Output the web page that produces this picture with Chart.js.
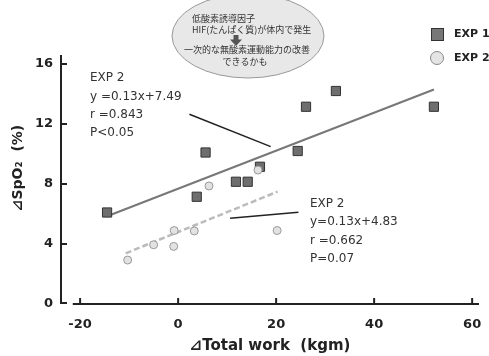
<!DOCTYPE html>
<html>
<head>
<meta charset="utf-8">
<script src="https://cdn.jsdelivr.net/npm/chart.js@4/dist/chart.umd.min.js"></script>
<style>
  html, body { margin: 0; padding: 0; background: #fff; }
  #wrap { position: relative; width: 489px; height: 356px; }
</style>
</head>
<body>
<div id="wrap"><canvas id="chart"></canvas></div>
<script>
// values
const xTicks = [-20, 0, 20, 40, 60];
const yTicks = [0, 4, 8, 12, 16];

const exp1X = [-14.5, 3.8, 5.6, 11.8, 14.2, 16.7, 24.4, 26.1, 32.2, 52.2];
const exp1Y = [6.1, 7.15, 10.1, 8.15, 8.15, 9.15, 10.2, 13.15, 14.2, 13.15];

const exp2X = [-10.3, -5.0, -0.9, -0.8, 3.3, 6.3, 16.3, 20.2];
const exp2Y = [2.93, 3.95, 3.84, 4.9, 4.87, 7.87, 8.93, 4.9];

// regression lines (end points)
const fit1X = [-14.5, 52.2];
const fit1Y = [5.85, 14.3];
const fit2X = [-10.7, 20.3];
const fit2Y = [3.38, 7.49];

// leader lines pointing from the annotations to the fits
const lead1X = [2.3, 18.9];
const lead1Y = [12.65, 10.49];
const lead2X = [10.6, 24.55];
const lead2Y = [5.71, 6.11];

const yTitle = '⊿SpO₂  (%)';
const note1 = ['EXP 2', 'y =0.13x+7.49', 'r =0.843', 'P<0.05'];
const note2 = ['EXP 2', 'y=0.13x+4.83', 'r =0.662', 'P=0.07'];
const bubbleText = ['低酸素誘導因子', 'HIF(たんぱく質)が体内で発生', '一次的な無酸素運動能力の改善', 'できるかも'];

function pts(xs, ys) {
    return xs.map(function(x, i) { return { x: x, y: ys[i] }; });
}

const decorations = {
    id: 'decorations',
    beforeDatasetsDraw: function(chart) {
        const ctx = chart.ctx;
        const xs = chart.scales.x, ys = chart.scales.y;
        const area = chart.chartArea;
        ctx.save();
        ctx.strokeStyle = '#222';
        ctx.lineWidth = 2;
        // y axis with a short foot
        const y0 = ys.getPixelForValue(0);
        ctx.beginPath();
        ctx.moveTo(area.left, area.top);
        ctx.lineTo(area.left, y0 - 1);
        ctx.lineTo(area.left + 6, y0 - 1);
        ctx.stroke();
        yTicks.forEach(function(v) {
            const py = ys.getPixelForValue(v);
            if (v === 0) return;
            ctx.beginPath();
            ctx.moveTo(area.left, py);
            ctx.lineTo(area.left + 6, py);
            ctx.stroke();
        });
        // x axis, detached from the y axis
        ctx.beginPath();
        ctx.moveTo(xs.getPixelForValue(-21.5), y0);
        ctx.lineTo(area.right, y0);
        ctx.stroke();
        xTicks.forEach(function(v) {
            const px = xs.getPixelForValue(v);
            ctx.beginPath();
            ctx.moveTo(px, y0);
            ctx.lineTo(px, y0 - 6);
            ctx.stroke();
        });

        // y axis title, placed a little above the middle as in the original
        ctx.translate(18, 168);
        ctx.rotate(-Math.PI / 2);
        ctx.fillStyle = '#222';
        ctx.font = 'bold 14px "DejaVu Sans", sans-serif';
        ctx.textAlign = 'center';
        ctx.textBaseline = 'middle';
        ctx.fillText(yTitle, 0, 0);
        ctx.restore();
    },
    afterDraw: function(chart) {
        const ctx = chart.ctx;
        const xs = chart.scales.x, ys = chart.scales.y;
        ctx.save();

        // leader lines
        ctx.strokeStyle = '#222';
        ctx.lineWidth = 1.5;
        [[lead1X, lead1Y], [lead2X, lead2Y]].forEach(function(l) {
            ctx.beginPath();
            ctx.moveTo(xs.getPixelForValue(l[0][0]), ys.getPixelForValue(l[1][0]));
            ctx.lineTo(xs.getPixelForValue(l[0][1]), ys.getPixelForValue(l[1][1]));
            ctx.stroke();
        });

        // annotation texts
        ctx.fillStyle = '#333';
        ctx.font = '12px "DejaVu Sans", sans-serif';
        ctx.textBaseline = 'middle';
        ctx.textAlign = 'left';
        const n1y = [78, 97, 115, 133];
        note1.forEach(function(t, i) { ctx.fillText(t, 90, n1y[i]); });
        const n2y = [204, 222, 241, 259];
        note2.forEach(function(t, i) { ctx.fillText(t, 310, n2y[i]); });

        // speech bubble
        ctx.beginPath();
        ctx.ellipse(248, 36, 76, 42, 0, 0, Math.PI * 2);
        ctx.fillStyle = '#e8e8e8';
        ctx.fill();
        ctx.strokeStyle = '#999';
        ctx.lineWidth = 1;
        ctx.stroke();
        ctx.fillStyle = '#333';
        ctx.font = '9px "Noto Sans CJK JP", sans-serif';
        ctx.textAlign = 'left';
        ctx.fillText(bubbleText[0], 192, 19);
        ctx.fillText(bubbleText[1], 192, 30);
        ctx.textAlign = 'center';
        ctx.fillText(bubbleText[2], 247, 50);
        ctx.fillText(bubbleText[3], 245, 62);
        // down arrow
        ctx.fillStyle = '#555';
        ctx.beginPath();
        ctx.moveTo(233.5, 35);
        ctx.lineTo(238.5, 35);
        ctx.lineTo(238.5, 39.5);
        ctx.lineTo(242, 39.5);
        ctx.lineTo(236, 46);
        ctx.lineTo(230, 39.5);
        ctx.lineTo(233.5, 39.5);
        ctx.closePath();
        ctx.fill();

        // legend
        ctx.fillStyle = '#777';
        ctx.strokeStyle = '#333';
        ctx.lineWidth = 1;
        ctx.fillRect(431, 28, 12, 12);
        ctx.strokeRect(431.5, 28.5, 12, 12);
        ctx.beginPath();
        ctx.arc(437, 58, 6.5, 0, Math.PI * 2);
        ctx.fillStyle = '#e4e4e4';
        ctx.fill();
        ctx.strokeStyle = '#888';
        ctx.stroke();
        ctx.fillStyle = '#222';
        ctx.font = 'bold 11px "DejaVu Sans", sans-serif';
        ctx.textAlign = 'left';
        ctx.fillText(chart.data.datasets[1].label, 454, 34);
        ctx.fillText(chart.data.datasets[0].label, 454, 58);
        ctx.restore();
    }
};

new Chart(document.getElementById('chart'), {
    type: 'scatter',
    data: {
        datasets: [
            {
                label: 'EXP 2',
                data: pts(exp2X, exp2Y),
                pointStyle: 'circle',
                pointRadius: 4,
                backgroundColor: '#e2e2e2',
                borderColor: '#999',
                borderWidth: 1
            },
            {
                label: 'EXP 1',
                data: pts(exp1X, exp1Y),
                pointStyle: 'rect',
                pointRadius: 6.5,
                backgroundColor: '#6e6e6e',
                borderColor: '#333',
                borderWidth: 1
            },
            {
                label: 'fit 1',
                data: pts(fit1X, fit1Y),
                showLine: true,
                pointRadius: 0,
                borderColor: '#777',
                borderWidth: 2
            },
            {
                label: 'fit 2',
                data: pts(fit2X, fit2Y),
                showLine: true,
                pointRadius: 0,
                borderColor: '#bbb',
                borderWidth: 2.5,
                borderDash: [6, 3]
            }
        ]
    },
    options: {
        responsive: true,
        maintainAspectRatio: false,
        animation: false,
        layout: { padding: { top: 55, right: 10, left: 0, bottom: 0 } },
        plugins: {
            legend: { display: false },
            tooltip: { enabled: false }
        },
        scales: {
            x: {
                type: 'linear',
                min: -23.9,
                max: 61.4,
                afterBuildTicks: function(scale) {
                    scale.ticks = xTicks.map(function(v) { return { value: v }; });
                },
                afterFit: function(scale) { scale.height = 52; },
                // tick marks are drawn by the plugin; tickLength only spaces the labels
                grid: { display: false, drawTicks: true, tickLength: 13 },
                border: { display: false },
                ticks: {
                    color: '#222',
                    padding: 0,
                    font: { family: '"DejaVu Sans", sans-serif', size: 13, weight: 'bold' }
                },
                title: {
                    display: true,
                    text: '⊿Total work  (kgm)',
                    color: '#222',
                    padding: { top: 2, bottom: 1 },
                    font: { family: '"DejaVu Sans", sans-serif', size: 15, weight: 'bold' }
                }
            },
            y: {
                min: 0,
                max: 16.6,
                afterBuildTicks: function(scale) {
                    scale.ticks = yTicks.map(function(v) { return { value: v }; });
                },
                afterFit: function(scale) { scale.width = 61; },
                grid: { display: false, drawTicks: true, tickLength: 8 },
                border: { display: false },
                ticks: {
                    color: '#222',
                    padding: 0,
                    font: { family: '"DejaVu Sans", sans-serif', size: 13, weight: 'bold' }
                }
            }
        }
    },
    plugins: [decorations]
});
</script>
</body>
</html>
